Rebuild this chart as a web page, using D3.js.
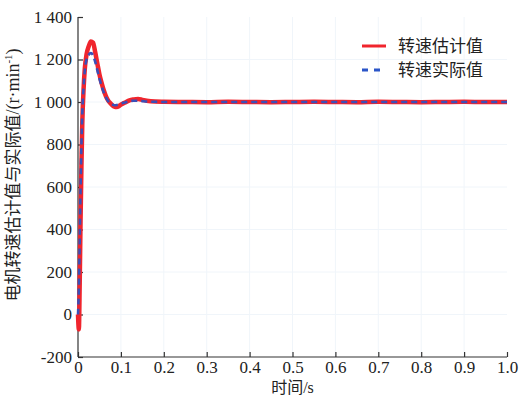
<!DOCTYPE html>
<html>
<head>
<meta charset="utf-8">
<script src="https://cdn.jsdelivr.net/npm/d3@7"></script>
<style>
  body { margin: 0; background: #fff; }
  svg { display: block; }
  .serif { font-family: "Liberation Serif", "Times New Roman", serif; }
  .cjk { font-family: "Noto Sans CJK SC", sans-serif; }
  .mix { font-family: "Liberation Serif", "Noto Sans CJK SC", serif; }
</style>
</head>
<body>
<div id="chart"></div>
<script>
// data
var timeS = [0, 0.002, 0.004, 0.006, 0.008, 0.010, 0.013, 0.016, 0.020, 0.025, 0.030, 0.035, 0.040, 0.045,
  0.050, 0.055, 0.060, 0.065, 0.070, 0.075, 0.080, 0.085, 0.090, 0.095, 0.100, 0.110, 0.120, 0.130,
  0.140, 0.150, 0.160, 0.180, 0.200, 0.250, 0.300, 0.350, 0.400, 0.450, 0.500, 0.550, 0.600, 0.650,
  0.700, 0.750, 0.800, 0.850, 0.900, 0.950, 1.000];
var speedEst = [0, -70, 150, 450, 700, 900, 1060, 1160, 1225, 1262, 1285, 1280, 1235, 1182,
  1130, 1090, 1055, 1028, 1008, 995, 985, 978, 976, 980, 988, 998, 1008, 1012,
  1014, 1010, 1006, 1002, 1001, 1000, 999, 1001, 1000, 999, 1000, 1001, 1000, 999,
  1001, 1000, 999, 1000, 1001, 1000, 1000];
var speedAct = [0, 120, 350, 600, 800, 950, 1070, 1150, 1200, 1222, 1230, 1220, 1190, 1150,
  1110, 1075, 1045, 1022, 1005, 994, 988, 985, 986, 988, 992, 998, 1004, 1006,
  1006, 1004, 1002, 1001, 1000, 1000, 1000, 1000, 1000, 1000, 1000, 1000, 1000, 1000,
  1000, 1000, 1000, 1000, 1000, 1000, 1000];
var xTicks = [0, 0.1, 0.2, 0.3, 0.4, 0.5, 0.6, 0.7, 0.8, 0.9, 1.0];
var yTicks = [-200, 0, 200, 400, 600, 800, 1000, 1200, 1400];
var seriesNames = ["转速估计值", "转速实际值"];

// set the dimensions and margins of the graph
var margin = {top: 17, right: 12, bottom: 40, left: 78},
    width = 519 - margin.left - margin.right,
    height = 397 - margin.top - margin.bottom;

var svg = d3.select("#chart")
  .append("svg")
    .attr("width", 519)
    .attr("height", 397)
  .append("g")
    .attr("transform", "translate(" + margin.left + "," + margin.top + ")");

var x = d3.scaleLinear().domain([0, 1]).range([0, width]);
var y = d3.scaleLinear().domain([-200, 1400]).range([height, 0]);

// faint grid
svg.append("g")
  .selectAll("line.vg")
  .data(xTicks.slice(1, -1))
  .enter().append("line")
    .attr("x1", function(d) { return x(d); })
    .attr("x2", function(d) { return x(d); })
    .attr("y1", 0).attr("y2", height)
    .attr("stroke", "#f0f5fa")
    .attr("stroke-width", 1);
svg.append("g")
  .selectAll("line.hg")
  .data(yTicks.slice(1, -1))
  .enter().append("line")
    .attr("x1", 0).attr("x2", width)
    .attr("y1", function(d) { return y(d); })
    .attr("y2", function(d) { return y(d); })
    .attr("stroke", "#f0f5fa")
    .attr("stroke-width", 1);

function fmtY(d) {
  var s = String(Math.abs(d));
  if (s.length > 3) s = s.slice(0, s.length - 3) + " " + s.slice(-3);
  return (d < 0 ? "-" : "") + s;
}

// X axis
var xAxis = svg.append("g")
  .attr("transform", "translate(0," + height + ")")
  .call(d3.axisBottom(x).tickValues(xTicks).tickSize(-5).tickPadding(4)
    .tickFormat(function(d) { return d === 0 ? "0" : d.toFixed(1); }));

// Y axis
var yAxis = svg.append("g")
  .call(d3.axisLeft(y).tickValues(yTicks).tickSize(-5).tickPadding(6).tickFormat(fmtY));

[xAxis, yAxis].forEach(function(a) {
  a.attr("font-family", null).attr("font-size", 17).attr("class", "serif");
  a.select(".domain").attr("stroke", "#333").attr("stroke-width", 1.2);
  a.selectAll(".tick line").attr("stroke", "#333").attr("stroke-width", 1.2);
  a.selectAll("text").attr("fill", "#222");
});
xAxis.select(".domain").attr("d", "M0,0H" + width);
yAxis.select(".domain").attr("d", "M0," + height + "V0");

// lines
var pts = timeS.map(function(t, i) { return {t: t, est: speedEst[i], act: speedAct[i]}; });

var lineEst = d3.line()
  .x(function(d) { return x(d.t); })
  .y(function(d) { return y(d.est); })
  .curve(d3.curveMonotoneX);
var lineAct = d3.line()
  .x(function(d) { return x(d.t); })
  .y(function(d) { return y(d.act); })
  .curve(d3.curveMonotoneX);

svg.append("path")
  .datum(pts)
  .attr("fill", "none")
  .attr("stroke", "#f0252d")
  .attr("stroke-width", 4.5)
  .attr("stroke-linejoin", "round")
  .attr("d", lineEst);

svg.append("path")
  .datum(pts)
  .attr("fill", "none")
  .attr("stroke", "#3a4fb8")
  .attr("stroke-width", 2.6)
  .attr("stroke-dasharray", "6,4")
  .attr("d", lineAct);

// legend
var legend = svg.append("g").attr("transform", "translate(" + (362 - margin.left) + "," + (46 - margin.top) + ")");
legend.append("line").attr("x1", 0).attr("x2", 24).attr("y1", 0).attr("y2", 0)
  .attr("stroke", "#f0252d").attr("stroke-width", 3);
legend.append("line").attr("x1", 0).attr("x2", 24).attr("y1", 24).attr("y2", 24)
  .attr("stroke", "#2b55c8").attr("stroke-width", 3).attr("stroke-dasharray", "6,6");
legend.selectAll("text")
  .data(seriesNames)
  .enter().append("text")
    .attr("class", "cjk")
    .attr("x", 36)
    .attr("y", function(d, i) { return i * 24 + 6; })
    .attr("font-size", 17)
    .attr("fill", "#222")
    .text(function(d) { return d; });

// axis names
svg.append("text")
  .attr("class", "mix")
  .attr("text-anchor", "middle")
  .attr("x", width / 2)
  .attr("y", height + 36)
  .attr("font-size", 16)
  .attr("fill", "#222")
  .text("时间/s");

var yl = svg.append("text")
  .attr("class", "cjk")
  .attr("text-anchor", "middle")
  .attr("transform", "translate(" + (-59) + "," + (height / 2 - 12) + ") rotate(-90)")
  .attr("font-size", 17)
  .attr("fill", "#222");
yl.append("tspan").text("电机转速估计值与实际值");
yl.append("tspan").attr("class", "serif").attr("font-size", 18).text("/(r·min");
yl.append("tspan").attr("class", "serif").attr("dy", -7).attr("font-size", 11).text("-1");
yl.append("tspan").attr("class", "serif").attr("dy", 7).attr("font-size", 18).text(")");
</script>
</body>
</html>
